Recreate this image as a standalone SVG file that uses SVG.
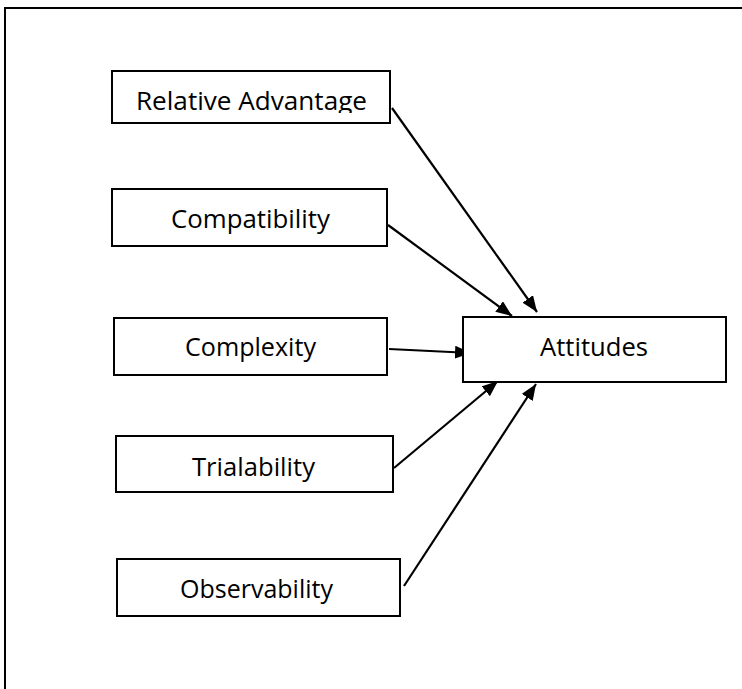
<svg xmlns="http://www.w3.org/2000/svg" width="742" height="689" viewBox="0 0 742 689">
<style>
.box{fill:#fff;stroke:#000;stroke-width:2}
.lbl{font-family:"Open Sans","Liberation Sans",sans-serif;font-size:25px;fill:#000;text-anchor:start}
.conn{stroke:#000;stroke-width:2.2;fill:none;marker-end:url(#ah)}
</style>
<defs>
<marker id="ah" markerWidth="16" markerHeight="13" refX="16" refY="6.5" orient="auto" markerUnits="userSpaceOnUse">
<path d="M0,0 L16,6.5 L0,13 Z" fill="#000"/>
</marker>
<clipPath id="clipRA"><rect x="112" y="70" width="280" height="43"/></clipPath>
</defs>
<rect x="0" y="0" width="742" height="689" fill="#fff"/>
<rect x="5" y="8" width="800" height="800" fill="none" stroke="#000" stroke-width="2"/>
<g id="connectors">
<line class="conn" x1="392" y1="108" x2="537" y2="312"/>
<line class="conn" x1="388" y1="225" x2="512" y2="316"/>
<line class="conn" x1="389" y1="349" x2="471" y2="353"/>
<line class="conn" x1="394" y1="468" x2="498" y2="381"/>
<line class="conn" x1="404" y1="586" x2="536" y2="384"/>
</g>
<g id="relative-advantage">
<rect class="box" x="112" y="71" width="278" height="52"/>
<text class="lbl" x="136" y="110" textLength="231" lengthAdjust="spacingAndGlyphs" clip-path="url(#clipRA)">Relative Advantage</text>
</g>
<g id="compatibility">
<rect class="box" x="112" y="189" width="275" height="57"/>
<text class="lbl" x="171" y="228" textLength="159" lengthAdjust="spacingAndGlyphs">Compatibility</text>
</g>
<g id="complexity">
<rect class="box" x="114" y="318" width="273" height="57"/>
<text class="lbl" x="185" y="356" textLength="131" lengthAdjust="spacingAndGlyphs">Complexity</text>
</g>
<g id="trialability">
<rect class="box" x="116" y="436" width="277" height="56"/>
<text class="lbl" x="192" y="476" textLength="123" lengthAdjust="spacingAndGlyphs">Trialability</text>
</g>
<g id="observability">
<rect class="box" x="117" y="559" width="283" height="57"/>
<text class="lbl" x="180" y="598" textLength="153" lengthAdjust="spacingAndGlyphs">Observability</text>
</g>
<g id="attitudes">
<rect class="box" x="463" y="317" width="263" height="65"/>
<text class="lbl" x="540" y="356" textLength="108" lengthAdjust="spacingAndGlyphs">Attitudes</text>
</g>
</svg>
